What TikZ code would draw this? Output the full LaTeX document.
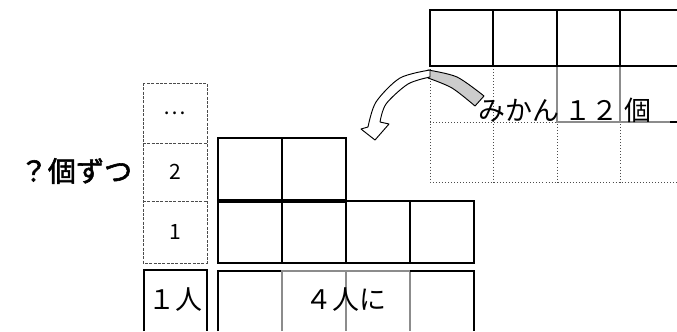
\documentclass[tikz,border=0pt]{standalone}
\usepackage{fontspec}
\newfontfamily\jpfont{Noto Sans CJK JP}
\newfontfamily\jpheavy[FakeBold=2]{Noto Sans CJK JP}
\usetikzlibrary{positioning}

\begin{document}
\begin{tikzpicture}[x=0.03cm, y=-0.03cm,
    solidline/.style={draw=black, line width=1.5pt},
    heavyline/.style={draw=black, line width=2.8pt},
    greyline/.style={draw=black!45, line width=1.1pt},
    dotline/.style={draw=black!70, line width=0.6pt, dotted},
    dashline/.style={draw=black!70, line width=0.8pt, dash pattern=on 2.5pt off 1.2pt},
    bigtxt/.style={font=\jpfont\fontsize{23}{25}\selectfont, inner sep=0pt},
    smalltxt/.style={font=\jpfont\fontsize{18}{20}\selectfont, inner sep=0pt}
  ]
  \useasboundingbox (0,0) rectangle (677,331);

  % box of oranges, top right
  \draw[dotline] (430,66) -- (430,182) -- (677,182);
  \foreach \x in {493,557,620} \draw[dotline] (\x,66) -- (\x,182);
  \draw[dotline] (430,122) -- (557,122);
  \draw[greyline] (557,66) -- (557,122) -- (670,122);
  \draw[greyline] (620,66) -- (620,122);
  \draw[solidline] (670,122) -- (677,122);
  \draw[solidline] (677,10) -- (430,10) -- (430,66) -- (677,66);
  \foreach \x in {493,557,620} \draw[solidline] (\x,10) -- (\x,66);

  % dashed column
  \draw[dashline] (143,83) rectangle (207,263);
  \draw[dashline] (143,143) -- (207,143);
  \draw[dashline] (143,201) -- (207,201);

  % cells handed out
  \draw[solidline] (218,201) -- (218,138) -- (346,138) -- (346,201);
  \draw[solidline] (218,201) -- (218,263) -- (474,263) -- (474,201) -- (346,201);
  \draw[solidline] (282,138) -- (282,263);
  \draw[solidline] (346,201) -- (346,263);
  \draw[solidline] (410,201) -- (410,263);
  \draw[heavyline] (218,201) -- (346,201);

  % bottom row
  \draw[solidline] (144,331) -- (144,270) -- (207,270) -- (207,331);
  \draw[solidline] (218,331) -- (218,271) -- (282,271);
  \draw[greyline] (282,331) -- (282,271) -- (410,271) -- (410,331);
  \draw[greyline] (346,271) -- (346,331);
  \draw[solidline] (410,271) -- (474,271) -- (474,331);

  % curved arrow
  \draw[fill=black!20, line width=0.8pt, line join=round]
    plot[smooth] coordinates {(428,70) (457,77) (484,96)} -- (475,106)
    -- plot[smooth] coordinates {(475,106) (452,88) (428,78)} -- cycle;
  \draw[fill=white, line width=0.8pt, line join=round]
    plot[smooth] coordinates {(430,70) (400,78) (376,102) (368,127)}
    -- (361,129) -- (375,140) -- (389,124)
    -- plot[smooth] coordinates {(380,122) (386,104) (408,84) (430,77)} -- cycle;

  % labels
  \node[bigtxt] (mikan) at (565,110) {みかん １２ 個};
  \node[bigtxt, font=\jpheavy\fontsize{24}{26}\selectfont] (each) at (76,171) {？個ずつ};
  \node[smalltxt] (dots) at (175,113) {…};
  \node[smalltxt] (two) at (175,172) {2};
  \node[smalltxt] (one) at (175,232) {1};
  \node[bigtxt] (person) at (175,300) {１人};
  \node[bigtxt] (four) at (346,300) {４人に};
\end{tikzpicture}
\end{document}
